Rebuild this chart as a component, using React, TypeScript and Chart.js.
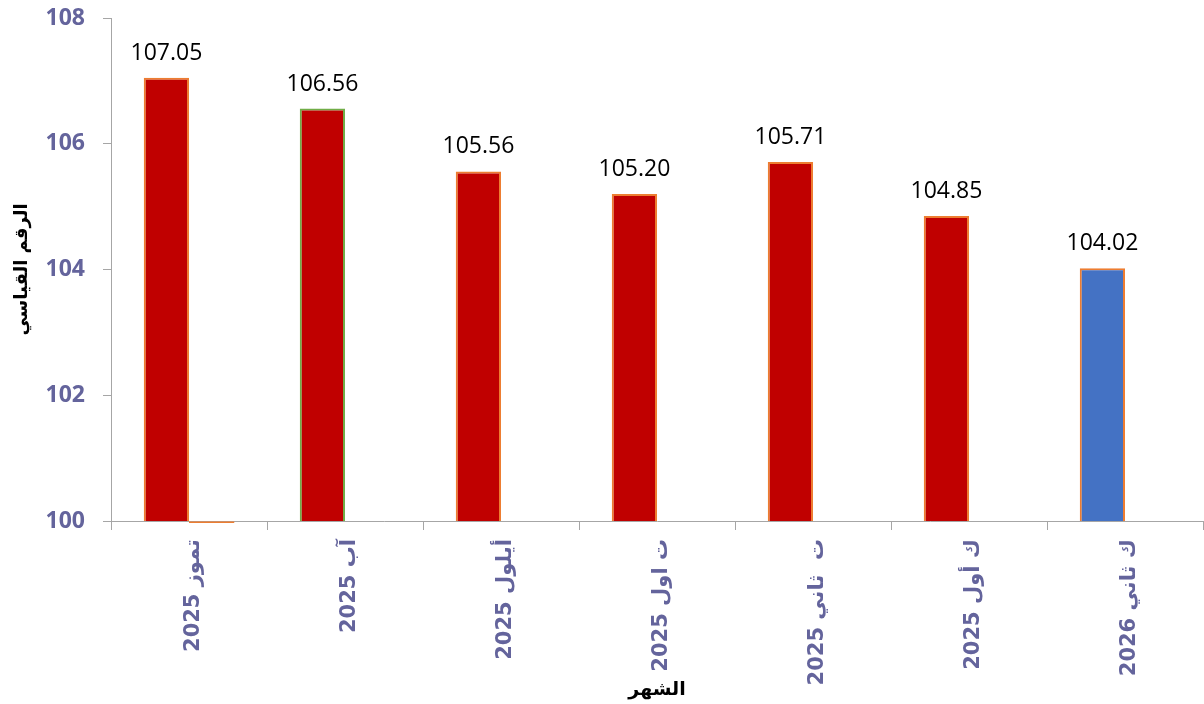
import React, { useEffect, useRef } from "react";
import { Chart, registerables } from "chart.js";

Chart.register(...registerables);

const categories = [
  "تموز 2025",
  "آب 2025",
  "أيلول 2025",
  "ت اول 2025",
  "ت  ثاني 2025",
  "ك أول 2025",
  "ك ثاني 2026",
];
const indexValues = [107.05, 106.56, 105.56, 105.2, 105.71, 104.85, 104.02];
const secondSeries = [99.97, null, null, null, null, null, null];
const barColors = ["#C00000", "#C00000", "#C00000", "#C00000", "#C00000", "#C00000", "#4472C4"];
const barBorders = ["#ED7D31", "#70AD47", "#ED7D31", "#ED7D31", "#ED7D31", "#ED7D31", "#ED7D31"];
const yTicks = [100, 102, 104, 106, 108];

const NUM_FONT = '"Open Sans", "DejaVu Sans", sans-serif';
const AR_FONT = '"DejaVu Sans", "Open Sans", sans-serif';
const TICK_COLOR = "#64649C";

const valueLabels = {
  id: "valueLabels",
  afterDatasetsDraw(chart: any) {
    const ctx = chart.ctx;
    const meta = chart.getDatasetMeta(0);
    ctx.save();
    ctx.font = `23px ${NUM_FONT}`;
    ctx.fillStyle = "#000000";
    ctx.textAlign = "center";
    ctx.textBaseline = "alphabetic";
    meta.data.forEach((el: any, i: number) => {
      const v = indexValues[i];
      ctx.fillText(v.toFixed(2), el.x, el.y - 18);
    });
    ctx.restore();
  },
};

export default function App() {
  const ref = useRef<HTMLCanvasElement | null>(null);
  useEffect(() => {
    document.body.style.margin = "0";
    const chart = new Chart(ref.current as HTMLCanvasElement, {
      type: "bar",
      data: {
        labels: categories,
        datasets: [
          {
            data: indexValues,
            backgroundColor: barColors,
            borderColor: barBorders,
            borderWidth: 2,
            borderSkipped: false,
          },
          {
            data: secondSeries as any,
            base: 100,
            backgroundColor: "#ED7D31",
            borderWidth: 0,
            clip: false as any,
          } as any,
        ],
      },
      options: {
        animation: false,
        responsive: true,
        maintainAspectRatio: false,
        layout: { padding: { top: 18, right: 1, left: 0, bottom: 0 } },
        plugins: { legend: { display: false }, tooltip: { enabled: false } },
        datasets: { bar: { categoryPercentage: 0.58, barPercentage: 1 } },
        scales: {
          x: {
            grid: { drawOnChartArea: false, drawTicks: true, tickLength: 9, color: "#A6A6A6", offset: true },
            border: { color: "#A6A6A6", width: 1 },
            ticks: {
              minRotation: 90,
              maxRotation: 90,
              padding: 9,
              labelOffset: 5,
              color: TICK_COLOR,
              font: { family: AR_FONT, size: 21, weight: "bold" },
            },
            title: {
              display: true,
              text: "الشهر",
              color: "#000000",
              font: { family: AR_FONT, size: 19, weight: "bold" },
              padding: { top: 0, bottom: 3 },
            },
            afterFit(scale: any) {
              scale.height = 183;
              scale.paddingLeft = 0;
              scale.paddingRight = 0;
            },
          },
          y: {
            min: 100,
            max: 108,
            afterBuildTicks(scale: any) {
              scale.ticks = yTicks.map((v) => ({ value: v }));
            },
            grid: { drawOnChartArea: false, drawTicks: true, tickLength: 8, color: "#A6A6A6" },
            border: { color: "#A6A6A6", width: 1 },
            ticks: {
              padding: 18,
              color: TICK_COLOR,
              font: { family: NUM_FONT, size: 23, weight: "bold" },
            },
            title: {
              display: true,
              text: "الرقم القياسي",
              color: "#000000",
              font: { family: AR_FONT, size: 18, weight: "bold" },
              padding: { top: 12, bottom: 0 },
            },
            afterFit(scale: any) {
              scale.width = 111;
              scale.paddingTop = 0;
              scale.paddingBottom = 0;
            },
          },
        },
      },
      plugins: [valueLabels],
    });
    return () => chart.destroy();
  }, []);
  return (
    <div style={{ position: "absolute", left: 0, top: 0, width: 1204, height: 704 }}>
      <canvas ref={ref} />
    </div>
  );
}
